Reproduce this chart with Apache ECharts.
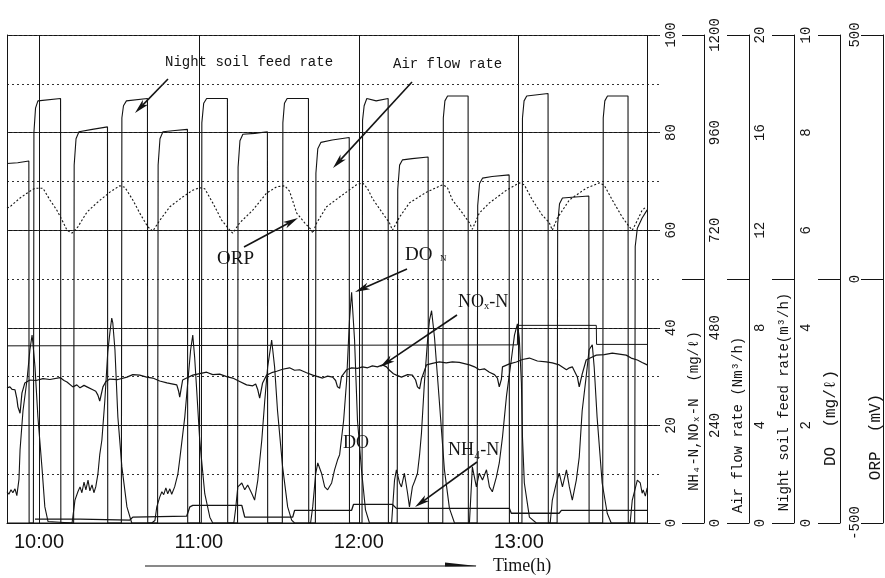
<!DOCTYPE html>
<html><head><meta charset="utf-8">
<script src="https://cdn.jsdelivr.net/npm/echarts@6/dist/echarts.min.js"></script>
<style>html,body{margin:0;padding:0;background:#fff}#c{width:885px;height:578px}</style>
</head><body><div id="c"></div>
<script>
// ---- axis ticks / labels ----
const hourTicks = [600, 660, 720, 780];      // 10:00 .. 13:00 (minutes of day)
const dataEnd = 828.2;
const nLabels = [0, 20, 40, 60, 80, 100],      nTicks = [0, 50, 100];
const airLabels = [0, 240, 480, 720, 960, 1200], airTicks = [0, 600, 1200];
const nsLabels = [0, 4, 8, 12, 16, 20],        nsTicks = [0, 10, 20];
const doLabels = [0, 2, 4, 6, 8, 10],          doTicks = [0, 5, 10];
const orpLabels = [-500, 0, 500],              orpTicks = [-500, 0, 500];

// ---- series data: [minute of day, value] ----
const nightSoilFeed = [ // m3/h
 [588,0],[597.9,0],[598.1,16.0],[598.7,17.0],[599.6,17.3],[608.1,17.4],[608.2,0],
 [630.9,0],[631.1,16.6],[631.7,17.1],[632.8,17.3],[640.7,17.4],[640.8,0],
 [660.9,0],[661.1,16.4],[661.8,17.2],[662.9,17.4],[670.7,17.4],[670.8,0],
 [691.3,0],[691.5,16.4],[692.1,17.2],[693.1,17.4],[701.1,17.4],[701.2,0],
 [721.2,0],[721.4,16.5],[722.0,17.1],[723.0,17.4],[726.5,17.3],[731.0,17.4],[731.1,0],
 [751.5,0],[751.7,16.6],[752.3,17.3],[753.3,17.5],[761.0,17.5],[761.1,0],
 [781.2,0],[781.4,16.6],[782.0,17.3],[783.0,17.5],[791.0,17.6],[791.1,0],
 [811.5,0],[811.7,16.6],[812.3,17.3],[813.3,17.5],[821.0,17.5],[821.1,0],[828.2,0]
];
const airFlow = [ // Nm3/h
 [588,884],[592,886],[596.2,890],[596.3,0],
 [613.0,0],[613.2,880],[613.9,945],[615.0,962],[620,968],[625.7,974],[625.8,0],
 [644.5,0],[644.7,880],[645.4,945],[646.5,962],[651,965],[655.7,968],[655.8,0],
 [674.5,0],[674.7,875],[675.4,940],[676.5,956],[681,958],[685.7,962],[685.8,0],
 [703.7,0],[703.9,860],[704.6,920],[705.8,936],[710,942],[716.4,948],[716.5,0],
 [734.4,0],[734.6,820],[735.3,880],[736.4,893],[740,896],[746.0,900],[746.1,0],
 [764.4,0],[764.6,780],[765.3,835],[766.4,848],[770,852],[776.4,856],[776.5,0],
 [794.4,0],[794.6,735],[795.3,785],[796.4,799],[800,801],[806.3,804],[806.4,0],
 [823.5,0],[823.7,680],[824.5,725],[826.3,750],[828.2,770]
];
const dissolvedOxygen = [ // mg/l
 [588,0.64],[588.7,0.59],[589.5,0.68],[590.2,0.62],[591.0,0.70],[591.7,0.56],[592.5,0.90],[592.9,1.5],[594.0,2.3],[595.5,2.93],[596.6,3.55],[597.4,3.85],[597.7,3.7],[598.5,3.2],[599.6,2.17],[601.1,1.15],[602.2,0.33],[603.4,0.03],[604.1,0],
 [612.4,0],[612.7,0.12],[613.5,0.47],[614.6,0.64],[615.4,0.74],[616.1,0.62],[616.9,0.84],[617.6,0.68],[618.4,0.88],[619.1,0.66],[619.9,0.78],[620.6,0.62],[621.3,0.74],[622.1,1.0],[622.8,1.4],[623.6,1.7],[624.7,2.5],[625.8,3.5],[626.6,3.9],[627.3,4.2],[627.7,4.1],[628.5,3.55],[629.6,2.17],[631.1,1.15],[633.0,0.33],[634.8,0],
 [642.3,0],[643.5,0.05],[644.2,0.33],[645.3,0.53],[646.1,0.64],[646.8,0.58],[647.6,0.72],[648.3,0.6],[649.1,0.7],[649.8,0.59],[650.9,0.74],[652.1,1.0],[652.8,1.3],[653.9,1.8],[654.7,2.17],[655.8,2.87],[656.9,3.55],[657.7,3.85],[658.4,3.4],[659.2,2.7],[660.3,1.7],[662.2,0.6],[664.1,0.12],[665.2,0],
 [673.1,0],[673.8,0.3],[674.6,0.74],[676.1,0.82],[677.2,0.68],[678.3,0.78],[679.8,0.61],[680.9,0.47],[682.1,0.88],[683.6,1.7],[684.7,2.5],[685.8,3.2],[687.3,3.75],[688.4,3.2],[689.5,2.3],[691.4,1.15],[693.3,0.33],[694.8,0.06],[695.9,0],
 [701.9,0],[702.7,0.33],[703.8,1.0],[704.6,1.23],[706.0,1.02],[707.2,0.74],[708.3,0.68],[709.8,0.82],[710.9,1.09],[712.0,1.29],[712.8,1.4],[714.3,2.1],[715.4,2.9],[716.5,4.16],[717.3,4.73],[718.4,3.75],[719.5,2.1],[721.0,1.09],[722.5,0.27],[724.0,0],
 [732.3,0],[733.4,0.88],[734.1,1.09],[735.3,0.82],[736.0,0.74],[737.1,1.02],[738.3,0.61],[739.0,0.33],[740.1,0.74],[740.9,0.85],[742.0,1.02],[742.8,1.4],[743.5,1.84],[744.6,2.87],[745.8,3.75],[746.5,4.15],[747.3,4.35],[748.4,3.8],[750.2,2.5],[752.1,1.1],[754.0,0.3],[755.9,0],
 [761.5,0],[762.6,1.15],[764.1,0.74],[765.2,1.02],[766.4,0.88],[767.9,1.09],[769.0,0.74],[770.1,0.64],[771.6,0.94],[772.7,1.23],[773.9,1.76],[775.4,2.6],[777.2,3.34],[778.4,3.85],[779.5,4.08],[780.2,3.8],[781.0,2.87],[781.4,1.76],[782.1,0.82],[784.0,0.12],[786.6,0],
 [791.8,0],[792.6,0.47],[794.1,0.82],[795.2,1.02],[796.4,0.74],[797.9,1.09],[799.0,0.74],[800.1,0.47],[801.6,0.88],[802.7,1.35],[803.8,2.3],[805.3,3.0],[806.4,3.55],[807.6,3.65],[808.3,3.2],[809.4,2.17],[811.3,0.82],[813.2,0.2],[814.7,0],
 [821.8,0],[822.6,0.47],[824.5,0.88],[825.6,0.82],[826.3,0.61],[826.7,0.68],[827.5,0.55],[828.2,0.72]
];
const orp = [ // mV
 [588,145],[589.1,148],[592.9,166],[596.6,180],[598.5,186],[601.5,186],[604.1,162],[606.7,141],[609.0,117],[610.5,100],[612.4,94],[612.7,90],[614.6,107],[618.0,137],[621.7,156],[626.6,178],[630.3,191],[632.2,188],[635.2,162],[637.8,135],[640.8,107],[642.7,98],[645.3,120],[649.1,148],[653.9,168],[657.7,182],[660.3,187],[662.2,185],[665.2,156],[668.6,120],[671.6,100],[672.7,94],[675.3,115],[680.2,141],[685.4,176],[689.2,189],[692.2,191],[694.0,180],[696.7,135],[699.7,115],[702.3,100],[702.7,94],[704.2,115],[707.9,148],[712.8,168],[719.1,193],[721.4,197],[723.3,185],[725.1,165],[728.9,135],[731.5,115],[732.6,100],[735.3,127],[739.0,156],[745.4,178],[751.4,193],[753.2,188],[755.1,162],[758.9,135],[761.5,115],[762.6,102],[765.2,135],[769.0,156],[775.4,182],[780.2,197],[782.1,193],[785.1,162],[788.8,131],[791.5,115],[792.6,100],[794.5,125],[799.0,162],[805.3,186],[810.2,197],[812.1,192],[815.1,162],[818.8,127],[821.5,107],[822.6,100],[824.5,120],[826.3,141],[827.8,148]
];
const noxN = [ // mg/l
 [588,27.7],[589.1,27.9],[589.9,27.4],[591.0,27.3],[591.7,25.5],[592.1,23.8],[592.9,22.5],[593.6,26.6],[594.7,28.7],[596.6,29.3],[598.9,29.2],[601.5,29.6],[604.1,29.4],[607.9,29.8],[609.4,29.2],[610.5,28.9],[612.7,27.9],[614.2,28.3],[615.4,27.7],[616.9,28.2],[618.0,27.9],[620.2,27.3],[621.3,27.0],[622.1,26.2],[622.8,25.0],[624.0,27.9],[625.1,29.0],[626.6,29.5],[629.6,29.4],[633.0,29.9],[635.2,30.4],[637.8,30.3],[640.4,29.9],[642.7,29.7],[645.3,29.1],[648.0,28.7],[651.7,28.3],[652.4,27.0],[652.8,25.8],[653.9,29.3],[655.4,29.7],[657.7,30.3],[660.3,30.6],[662.9,30.9],[665.2,30.4],[667.8,30.5],[670.4,30.0],[672.7,29.7],[675.3,29.0],[677.9,28.3],[680.2,28.1],[681.3,28.5],[682.1,27.3],[682.8,25.6],[683.9,28.7],[685.4,30.3],[687.3,30.8],[689.2,31.1],[691.4,31.5],[694.0,31.8],[695.9,31.3],[697.8,31.4],[700.4,30.8],[702.7,30.3],[704.6,30.0],[706.4,29.7],[708.3,30.1],[710.2,29.9],[711.3,29.2],[712.0,27.9],[712.8,27.6],[713.5,30.0],[715.4,31.4],[717.3,31.8],[719.5,31.7],[721.4,32.0],[723.3,31.8],[725.1,32.2],[727.0,32.0],[728.9,32.4],[730.4,32.0],[731.5,31.3],[733.0,30.6],[734.1,30.3],[736.0,29.9],[738.3,30.4],[740.1,30.3],[741.3,29.3],[742.0,27.9],[742.8,27.5],[743.5,29.5],[745.4,32.4],[747.6,32.7],[750.2,33.0],[752.8,32.8],[755.1,33.0],[757.7,32.9],[761.5,32.4],[763.4,32.0],[765.2,31.4],[767.1,31.6],[769.0,30.9],[770.9,30.4],[772.0,29.7],[772.7,27.9],[773.5,29.5],[773.9,32.0],[776.5,32.6],[779.1,33.0],[781.4,33.5],[784.0,33.8],[787.0,33.2],[790.3,33.0],[792.6,32.8],[795.2,32.4],[797.9,31.4],[799.0,31.8],[800.1,32.0],[801.2,30.8],[802.0,29.9],[802.7,27.9],[803.8,30.5],[805.3,33.4],[807.2,33.9],[809.1,34.4],[812.1,34.5],[815.1,34.8],[817.7,34.6],[820.3,34.4],[822.2,33.8],[824.5,33.4],[826.3,32.9],[828.2,32.4]
];
const nh4N = [ // mg/l
 [598.5,0.8],[615.4,0.8],[615.7,0.6],[634.1,0.6],[635.2,1.2],[655.4,1.4],[656.6,3.3],[657.7,3.6],[676.1,3.6],[677.2,1.2],[695.2,1.2],[695.9,2.6],[717.3,2.6],[718.0,3.8],[732.6,3.8],[734.1,3.0],[776.5,3.0],[777.2,2.0],[795.2,2.0],[796.0,2.6],[828.2,2.6]
];
const refLevel = [ // reference trace drawn on the mg/l scale
 [588,36.3],[779.5,36.5],[779.6,40.5],[809.1,40.5],[809.2,36.6],[828.2,36.6]
];

const INK = '#141414';
const monoFont = '"Liberation Mono", "DejaVu Sans Mono", monospace';
const serifFont = '"Liberation Serif", "DejaVu Serif", serif';

function rightAxis(min, max, labels, ticks, offset, margin) {
  return {
    type: 'value', min: min, max: max, position: 'right', offset: offset,
    axisLine: { show: true, onZero: false, lineStyle: { color: INK, width: 1 } },
    axisTick: { show: true, inside: true, length: 22, customValues: ticks, lineStyle: { color: INK, width: 1 } },
    axisLabel: { show: true, inside: true, margin: margin, rotate: 90, customValues: labels,
      fontFamily: monoFont, fontSize: 14, color: INK,
      formatter: function (v) { return String(v); } },
    splitLine: { show: false }
  };
}
function fmtTime(v) { return Math.floor(v / 60) + ':' + String(v % 60).padStart(2, '0'); }

const base = { type: 'line', showSymbol: false, symbol: 'none', animation: false, silent: true,
  xAxisIndex: 0, z: 3 };
function ln(width, extra) { return Object.assign({ color: INK, width: width }, extra || {}); }

function arrow(x1, y1, x2, y2) {
  const dx = x2 - x1, dy = y2 - y1, L = Math.hypot(dx, dy), ux = dx / L, uy = dy / L;
  const hl = 15, hw = 3.6, bx = x2 - ux * hl, by = y2 - uy * hl;
  const mx = bx + ux * 4, my = by + uy * 4;
  return [
    { type: 'line', silent: true, shape: { x1: x1, y1: y1, x2: mx, y2: my }, style: { stroke: INK, lineWidth: 1.6 } },
    { type: 'polygon', silent: true, shape: { points: [[x2, y2], [bx - uy * hw, by + ux * hw], [mx, my], [bx + uy * hw, by - ux * hw]] }, style: { fill: INK } }
  ];
}
function txt(x, y, text, font, align, rot) {
  return { type: 'text', silent: true, x: x, y: y, rotation: rot || 0,
    style: { text: text, font: font, fill: INK, textAlign: align || 'left', textVerticalAlign: 'middle' } };
}

const graphics = [].concat(
  [txt(165, 62, 'Night soil feed rate', '14px ' + monoFont)],
  arrow(168, 79, 135, 113),
  [txt(393, 64, 'Air flow rate', '14px ' + monoFont)],
  arrow(412, 82, 333, 168),
  [txt(217, 259, 'ORP', '19px ' + serifFont)],
  arrow(244, 247, 298, 218),
  [txt(405, 255, 'DO', '19px ' + serifFont), txt(440, 259, 'N', '9px ' + serifFont)],
  arrow(407, 269, 355, 292),
  [txt(458, 302, 'NOₓ-N', '18px ' + serifFont)],
  arrow(457, 315, 380, 367),
  [txt(343, 443, 'DO', '18px ' + serifFont)],
  [txt(448, 450, 'NH₄-N', '18px ' + serifFont)],
  arrow(477, 462, 415, 507),
  // time arrow
  [{ type: 'line', silent: true, shape: { x1: 145, y1: 566, x2: 476, y2: 566 }, style: { stroke: INK, lineWidth: 1.2 } },
   { type: 'polygon', silent: true, shape: { points: [[445, 562.5], [477, 566], [445, 566.5]] }, style: { fill: INK } },
   txt(493, 566, 'Time(h)', '18px ' + serifFont)],
  // axis names (rotated, reading upward)
  [txt(694, 411, 'NH₄-N,NOₓ-N  (mg/ℓ)', '14px ' + monoFont, 'center', Math.PI / 2),
   txt(738, 425, 'Air flow rate (Nm³/h)', '14px ' + monoFont, 'center', Math.PI / 2),
   txt(784, 402, 'Night soil feed rate(m³/h)', '14px ' + monoFont, 'center', Math.PI / 2),
   txt(831, 418, 'DO  (mg/ℓ)', '16px ' + monoFont, 'center', Math.PI / 2),
   txt(876, 437, 'ORP  (mV)', '16px ' + monoFont, 'center', Math.PI / 2)]
);

const chart = echarts.init(document.getElementById('c'), null, { renderer: 'canvas' });
chart.setOption({
  animation: false,
  backgroundColor: '#fff',
  grid: { left: 7, right: 225, top: 35, bottom: 55, containLabel: false, outerBoundsMode: 'none' },
  xAxis: [{
    type: 'value', min: 588, max: 833, interval: 12,
    axisLine: { show: true, onZero: false, lineStyle: { color: INK, width: 1 } },
    axisTick: { show: false }, splitLine: { show: false },
    axisLabel: { margin: 9, fontSize: 20, fontFamily: '"Liberation Sans", Arial, sans-serif', color: INK,
      showMinLabel: false, showMaxLabel: false,
      formatter: function (v) { return v % 60 === 0 ? fmtTime(v) : ''; } }
  }],
  yAxis: [
    rightAxis(0, 100, nLabels, nTicks, 44, 26),
    rightAxis(0, 1200, airLabels, airTicks, 89, 27),
    rightAxis(0, 20, nsLabels, nsTicks, 134, 27),
    rightAxis(0, 10, doLabels, doTicks, 180, 27),
    rightAxis(-500, 500, orpLabels, orpTicks, 223, 21),
    { type: 'value', min: 0, max: 100, interval: 20, position: 'left',
      axisLine: { show: true, onZero: false, lineStyle: { color: INK, width: 1 } },
      axisTick: { show: false }, axisLabel: { show: false },
      splitLine: { show: true, lineStyle: { color: INK, width: 1 } } },
    { type: 'value', min: 0, max: 100, interval: 10, position: 'left',
      axisLine: { show: false }, axisTick: { show: false }, axisLabel: { show: false },
      splitLine: { show: true, lineStyle: { color: '#333', width: 1, type: [2, 3] } } }
  ],
  series: [
    Object.assign({}, base, { name: 'NH4-N', yAxisIndex: 0, data: nh4N, lineStyle: ln(1.3),
      markLine: { silent: true, symbol: ['none', 'none'], label: { show: false }, animation: false,
        lineStyle: { color: INK, width: 1, type: 'solid' },
        data: hourTicks.map(function (v) { return { xAxis: v }; }).concat([{ xAxis: dataEnd }]) } }),
    Object.assign({}, base, { name: 'NOx-N', yAxisIndex: 0, data: noxN, lineStyle: ln(1.2) }),
    Object.assign({}, base, { name: 'ref', yAxisIndex: 0, data: refLevel, lineStyle: ln(1) }),
    Object.assign({}, base, { name: 'Air flow rate', yAxisIndex: 1, data: airFlow, lineStyle: ln(1.1) }),
    Object.assign({}, base, { name: 'Night soil feed rate', yAxisIndex: 2, data: nightSoilFeed, lineStyle: ln(1.1) }),
    Object.assign({}, base, { name: 'DO', yAxisIndex: 3, data: dissolvedOxygen, lineStyle: ln(1.1) }),
    Object.assign({}, base, { name: 'ORP', yAxisIndex: 4, data: orp, lineStyle: ln(1.1, { type: [2, 2] }) })
  ],
  graphic: { elements: graphics }
});
</script></body></html>
